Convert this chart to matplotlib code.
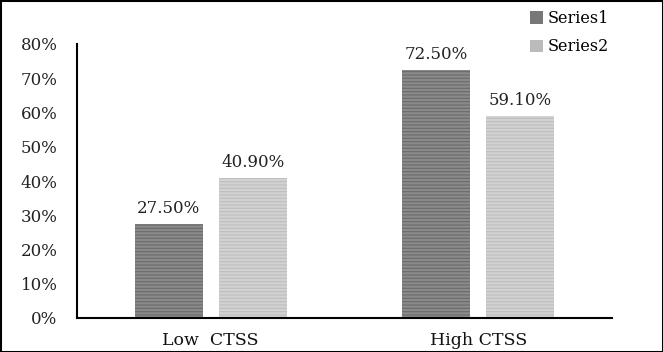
import matplotlib
matplotlib.use("Agg")
import matplotlib.pyplot as plt
from matplotlib.patches import Rectangle, Patch
import numpy as np

categories = ["Low  CTSS", "High CTSS"]
series_names = ["Series1", "Series2"]
series1 = [0.275, 0.725]
series2 = [0.409, 0.591]
yticks = [0, 0.1, 0.2, 0.3, 0.4, 0.5, 0.6, 0.7, 0.8]

plt.rcParams['font.family'] = ['DejaVu Serif']
plt.rcParams['hatch.linewidth'] = 0.8

fig = plt.figure(figsize=(6.63, 3.52), dpi=100)
ax = fig.add_axes([77/663, 34/352, (612-77)/663, (318-44)/352])

x = np.arange(len(categories))
w = 0.254
off = w/2 + 0.03
c1_face, c1_hatch = '#8a8a8a', '#6a6a6a'
c2_face, c2_hatch = '#d2d2d2', '#bdbdbd'
b1 = ax.bar(x - off, series1, w, color=c1_face, edgecolor=c1_hatch, hatch='-----', linewidth=0)
b2 = ax.bar(x + off, series2, w, color=c2_face, edgecolor=c2_hatch, hatch='-----', linewidth=0)

for bars, vals in ((b1, series1), (b2, series2)):
    for r, v in zip(bars, vals):
        ax.annotate(f"{v*100:.2f}%", (r.get_x() + r.get_width()/2, v),
                    xytext=(0, 5), textcoords='offset points',
                    ha='center', va='bottom', fontsize=12, color='#222222')

ax.set_xlim(-0.5, 1.5)
ax.set_ylim(0, 0.8)
ax.set_yticks(yticks)
ax.set_yticklabels([f"{int(round(t*100))}%" for t in yticks], fontsize=12, color='#222222')
ax.set_xticks(x)
ax.set_xticklabels(categories, fontsize=12.5, color='#111111')
ax.tick_params(axis='y', length=0, pad=14)
ax.tick_params(axis='x', length=0, pad=10)
for s in ('top', 'right'):
    ax.spines[s].set_visible(False)
ax.spines['left'].set_linewidth(1.5)
ax.spines['bottom'].set_linewidth(1.5)

handles = [Patch(facecolor='#777777', edgecolor='none'), Patch(facecolor='#bbbbbb', edgecolor='none')]
fig.legend(handles, series_names, loc='upper left', bbox_to_anchor=(530/663, 1 - 10/352),
           frameon=False, fontsize=11.5, handlelength=0.8, handleheight=0.8,
           handletextpad=0.3, labelspacing=0.7, borderpad=0, borderaxespad=0)

fig.patches.append(Rectangle((0, 0), 1, 1, transform=fig.transFigure, fill=False,
                             edgecolor='black', linewidth=2.2))

fig.savefig("out.png", dpi=100)
